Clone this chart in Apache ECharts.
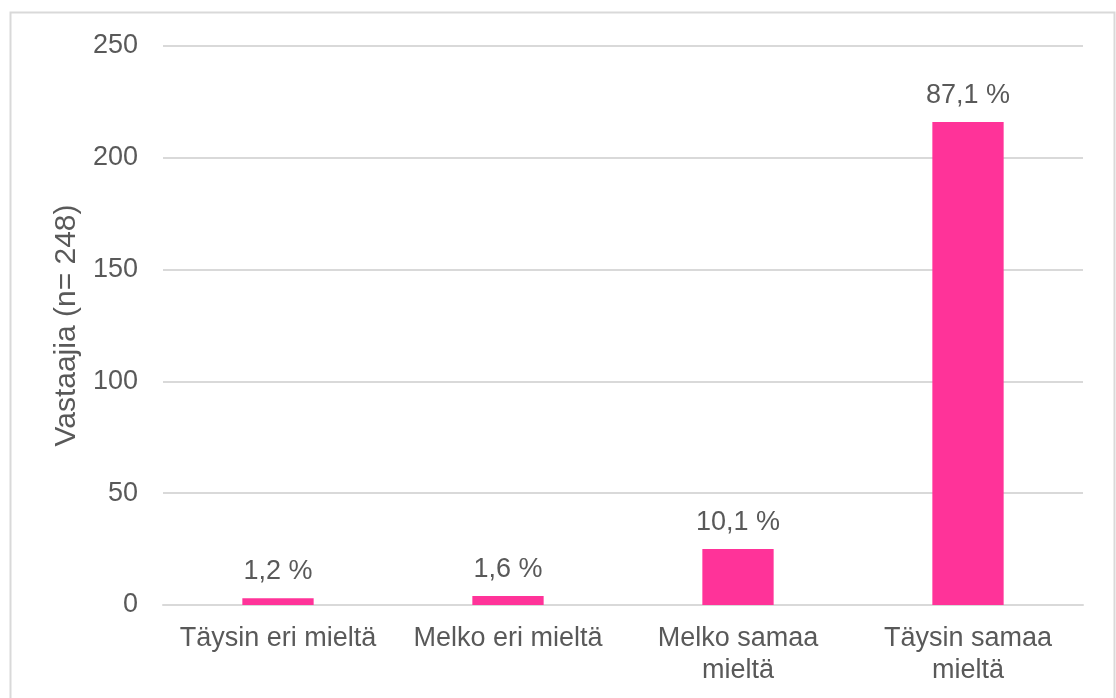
<!DOCTYPE html>
<html>
<head>
<meta charset="utf-8">
<script src="https://cdn.jsdelivr.net/npm/echarts@6/dist/echarts.min.js"></script>
<style>
html,body{margin:0;padding:0;background:#fff;}
#chart{width:1116px;height:698px;}
</style>
</head>
<body>
<div id="chart"></div>
<script>
// vastaukset
var categories = ['Täysin eri mieltä', 'Melko eri mieltä', 'Melko samaa\nmieltä', 'Täysin samaa\nmieltä'];
var counts = [3, 4, 25, 216];
var percentLabels = ['1,2 %', '1,6 %', '10,1 %', '87,1 %'];
var yTicks = [0, 50, 100, 150, 200, 250];

var myChart = echarts.init(document.getElementById('chart'));
var textColor = '#595959';
var font = 'Liberation Sans, Arial, sans-serif';

var option = {
    animation: false,
    graphic: [{
        type: 'rect',
        shape: {x: 10.5, y: 12.5, width: 1104, height: 700},
        style: {fill: 'none', stroke: '#d9d9d9', lineWidth: 2}
    }],
    grid: {left: 163, right: 33, top: 46, bottom: 93, containLabel: false},
    xAxis: {
        type: 'category',
        data: categories,
        axisTick: {show: false},
        axisLine: {lineStyle: {color: '#d9d9d9', width: 2}},
        axisLabel: {color: textColor, fontSize: 27, fontFamily: font, margin: 18, interval: 0, lineHeight: 32}
    },
    yAxis: {
        type: 'value',
        min: yTicks[0],
        max: yTicks[yTicks.length - 1],
        interval: 50,
        name: 'Vastaajia (n= 248)',
        nameLocation: 'middle',
        nameGap: 79,
        nameTextStyle: {color: textColor, fontSize: 30, fontFamily: font},
        axisLine: {show: false},
        axisTick: {show: false},
        axisLabel: {color: textColor, fontSize: 27, fontFamily: font, margin: 25},
        splitLine: {lineStyle: {color: '#d9d9d9', width: 2}}
    },
    series: [{
        type: 'bar',
        data: counts,
        barWidth: '31%',
        itemStyle: {color: '#ff3399'},
        label: {
            show: true,
            position: 'top',
            distance: 13,
            color: textColor,
            fontSize: 27,
            fontFamily: font,
            formatter: function(p){ return percentLabels[p.dataIndex]; }
        }
    }]
};
myChart.setOption(option);
</script>
</body>
</html>
